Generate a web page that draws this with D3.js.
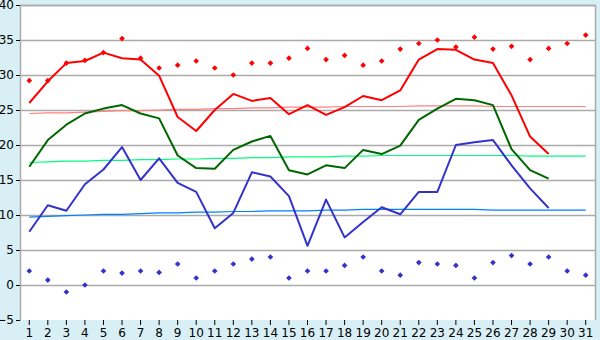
<!DOCTYPE html>
<html>
<head>
<meta charset="utf-8">
<script src="https://cdn.jsdelivr.net/npm/d3@7"></script>
<style>
  body { margin: 0; background: #d9eff6; }
  svg { display: block; }
  .axis text { font-family: "DejaVu Sans", sans-serif; font-size: 12px; fill: #000; }
</style>
</head>
<body>
<svg id="chart" width="600" height="340"></svg>
<script>
var days = d3.range(1, 32);
var yTicks = [-5, 0, 5, 10, 15, 20, 25, 30, 35, 40];

// mean of daily max (red), daily mean (green), daily min (blue) - 29 days
var maxAvg = [26.0, 29.1, 31.7, 32.0, 33.2, 32.4, 32.2, 29.9, 24.0, 22.0,
  25.0, 27.3, 26.3, 26.7, 24.4, 25.7, 24.3, 25.4, 27.0, 26.4,
  27.8, 32.2, 33.7, 33.6, 32.2, 31.7, 27.1, 21.2, 18.7];
var meanAvg = [16.9, 20.7, 22.9, 24.5, 25.2, 25.7, 24.5, 23.8, 18.5, 16.7,
  16.6, 19.3, 20.5, 21.3, 16.4, 15.8, 17.1, 16.7, 19.3, 18.7,
  19.9, 23.6, 25.2, 26.6, 26.4, 25.7, 19.4, 16.4, 15.2];
var minAvg = [7.6, 11.4, 10.6, 14.4, 16.5, 19.7, 15.0, 18.1, 14.6, 13.3,
  8.1, 10.3, 16.1, 15.5, 12.7, 5.6, 12.2, 6.8, 9.0, 11.1,
  10.1, 13.3, 13.3, 20.0, 20.4, 20.7, 17.1, 13.8, 11.0];

// normals
var maxNormal = [24.5, 24.6, 24.6, 24.7, 24.8, 24.9, 24.9, 25.0, 25.1, 25.1,
  25.2, 25.2, 25.3, 25.3, 25.4, 25.4, 25.4, 25.5, 25.5, 25.5,
  25.5, 25.6, 25.6, 25.6, 25.6, 25.5, 25.5, 25.5, 25.5, 25.5, 25.5];
var meanNormal = [17.5, 17.6, 17.7, 17.7, 17.8, 17.8, 17.9, 17.9, 18.0, 18.0,
  18.1, 18.1, 18.2, 18.2, 18.3, 18.3, 18.3, 18.4, 18.4, 18.5,
  18.5, 18.5, 18.5, 18.5, 18.5, 18.5, 18.5, 18.4, 18.4, 18.4, 18.4];
var minNormal = [9.7, 9.8, 9.9, 10.0, 10.1, 10.1, 10.2, 10.3, 10.3, 10.4,
  10.4, 10.5, 10.5, 10.6, 10.6, 10.6, 10.7, 10.7, 10.8, 10.8,
  10.8, 10.8, 10.8, 10.8, 10.8, 10.7, 10.7, 10.7, 10.7, 10.7, 10.7];

// records
var maxRecord = [29.2, 29.2, 31.7, 32.1, 33.2, 35.2, 32.4, 31.0, 31.4, 32.0,
  31.0, 30.0, 31.7, 31.7, 32.4, 33.8, 32.2, 32.8, 31.4, 32.0,
  33.7, 34.5, 35.0, 34.0, 35.4, 33.7, 34.1, 32.2, 33.8, 34.5, 35.7];
var minRecord = [2.0, 0.7, -1.0, 0.0, 2.0, 1.7, 2.0, 1.8, 3.0, 1.0,
  2.0, 3.0, 3.7, 4.0, 1.0, 2.0, 2.0, 2.8, 4.0, 2.0,
  1.4, 3.2, 3.0, 2.8, 1.0, 3.2, 4.2, 3.0, 4.0, 2.0, 1.4];

var svg = d3.select('#chart');
var plotLeft = 20, plotRight = 595, plotTop = 5, plotBottom = 320;

var x = d3.scaleBand().domain(days).range([plotLeft, plotRight]);
var y = d3.scaleLinear().domain([-5, 40]).range([plotBottom, plotTop]);
function cx(d) { return x(d) + x.bandwidth() / 2; }

svg.append('rect')
  .attr('x', plotLeft).attr('y', plotTop)
  .attr('width', plotRight - plotLeft).attr('height', plotBottom - plotTop)
  .attr('fill', '#fff');

// grid
svg.append('g')
  .selectAll('line')
  .data(yTicks.slice(1))
  .enter().append('line')
  .attr('x1', plotLeft).attr('x2', plotRight)
  .attr('y1', function(d) { return y(d) + 0.5; })
  .attr('y2', function(d) { return y(d) + 0.5; })
  .attr('stroke', '#aaaaaa')
  .attr('stroke-width', 1.5);

// plot border
svg.append('path')
  .attr('d', 'M' + (plotLeft + 0.5) + ',' + plotBottom + 'V' + (plotTop + 0.5) + 'H' + (plotRight + 0.5) + 'V' + plotBottom)
  .attr('fill', 'none')
  .attr('stroke', '#aaaaaa')
  .attr('stroke-width', 1.5);

function drawLine(values, color, width) {
  var line = d3.line()
    .x(function(d, i) { return cx(days[i]); })
    .y(function(d) { return y(d); });
  svg.append('path')
    .datum(values)
    .attr('d', line)
    .attr('fill', 'none')
    .attr('stroke', color)
    .attr('stroke-width', width)
    .attr('stroke-linejoin', 'round');
}

drawLine(maxNormal, '#ff8080', 1.2);
drawLine(meanNormal, '#00ff80', 1.2);
drawLine(minNormal, '#0080ff', 1.2);
drawLine(maxAvg, '#ff0000', 2);
drawLine(meanAvg, '#006600', 2);
drawLine(minAvg, '#3333cc', 2);

function drawPoints(values, color) {
  svg.append('g')
    .selectAll('path')
    .data(values)
    .enter().append('path')
    .attr('transform', function(d, i) { return 'translate(' + cx(days[i]) + ',' + y(d) + ') rotate(45)'; })
    .attr('d', d3.symbol().type(d3.symbolSquare).size(16))
    .attr('fill', color);
}
drawPoints(maxRecord, '#ff0000');
drawPoints(minRecord, '#3333cc');

// axes
var yAxis = svg.append('g')
  .attr('class', 'axis')
  .attr('transform', 'translate(' + plotLeft + ',0)')
  .call(d3.axisLeft(y).tickValues(yTicks).tickSize(4).tickPadding(2));
yAxis.select('.domain').attr('stroke', '#aaaaaa');

var xAxis = svg.append('g')
  .attr('class', 'axis')
  .attr('transform', 'translate(0,' + plotBottom + ')')
  .call(d3.axisBottom(x).tickSize(5).tickPadding(3));
xAxis.select('.domain').remove();
</script>
</body>
</html>
